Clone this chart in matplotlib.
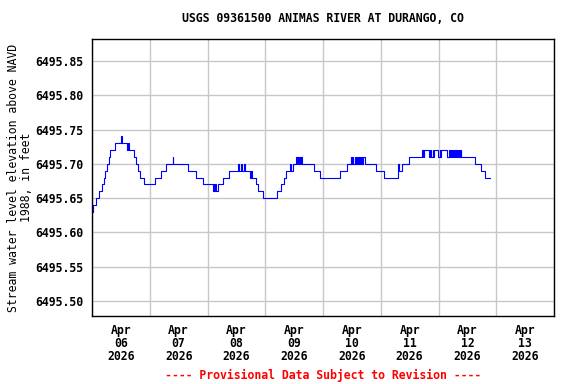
# USGS gage height plot, Animas River at Durango

import numpy as np
import pandas as pd
import matplotlib
matplotlib.use("Agg")
import matplotlib.pyplot as plt

# Step changes of the water level: hours after Apr 06 00:00, level (ft)
hours = [0.0, 0.5, 1.5, 2.9, 4.0, 5.0, 5.6, 6.4, 6.9, 7.6, 9.6, 12.0, 12.3,
         14.4, 15.0, 15.5, 17.6, 18.3, 19.0, 20.0, 21.8, 26.2, 28.8, 30.8,
         33.5, 33.8, 40.1, 43.3, 46.1, 50.3, 50.6, 50.8, 51.2, 51.4, 52.4,
         54.6, 57.1, 60.7, 61.0, 61.9, 62.2, 63.1, 63.4, 65.7, 66.0,
         66.3, 68.2, 69.1, 71.2, 76.7, 78.5, 79.7, 80.8, 82.2, 82.5,
         83.6, 84.8, 85.1, 85.3, 85.6, 85.8, 86.0, 86.5, 86.8, 87.0, 87.2,
         92.4, 94.7, 103.1, 105.8, 107.5, 107.8, 108.0, 108.6, 109.2, 109.4,
         109.8, 110.1, 110.6, 110.8, 111.4, 111.6, 112.0, 112.3, 112.8, 113.3,
         118.2, 121.4, 127.0, 127.3, 127.6, 129.0, 131.8, 137.1, 137.4, 137.6,
         137.9, 138.1, 140.1, 140.5, 140.9, 141.7, 141.9, 142.1, 143.8, 144.6,
         144.8, 145.0, 147.5, 148.4, 148.7, 149.2, 149.5, 150.1, 150.4, 150.9,
         151.2, 151.6, 151.9, 152.5, 152.8, 153.2, 153.5, 159.3, 161.8, 163.5,
         165.4]
levels = [6495.63, 6495.64, 6495.65, 6495.66, 6495.67, 6495.68, 6495.69, 6495.70,
          6495.71, 6495.72, 6495.73, 6495.74, 6495.73, 6495.72, 6495.73, 6495.72,
          6495.71, 6495.70, 6495.69, 6495.68, 6495.67, 6495.68, 6495.69, 6495.70,
          6495.71, 6495.70, 6495.69, 6495.68, 6495.67, 6495.66, 6495.67, 6495.66,
          6495.67, 6495.66, 6495.67, 6495.68, 6495.69, 6495.70, 6495.69,
          6495.70, 6495.69, 6495.70, 6495.69, 6495.68, 6495.69, 6495.68,
          6495.67, 6495.66, 6495.65, 6495.66, 6495.67, 6495.68, 6495.69, 6495.70,
          6495.69, 6495.70, 6495.71, 6495.70, 6495.71, 6495.70, 6495.71, 6495.70,
          6495.71, 6495.70, 6495.71, 6495.70, 6495.69, 6495.68, 6495.69, 6495.70,
          6495.71, 6495.70, 6495.71, 6495.70, 6495.71, 6495.70, 6495.71, 6495.70,
          6495.71, 6495.70, 6495.71, 6495.70, 6495.71, 6495.70, 6495.71, 6495.70,
          6495.69, 6495.68, 6495.69, 6495.70, 6495.69, 6495.70, 6495.71, 6495.72,
          6495.71, 6495.72, 6495.71, 6495.72, 6495.71, 6495.72, 6495.71, 6495.72,
          6495.71, 6495.72, 6495.71, 6495.72, 6495.71, 6495.72, 6495.71, 6495.72,
          6495.71, 6495.72, 6495.71, 6495.72, 6495.71, 6495.72, 6495.71, 6495.72,
          6495.71, 6495.72, 6495.71, 6495.72, 6495.71, 6495.70, 6495.69, 6495.68,
          6495.68]

y_ticks = [6495.50, 6495.55, 6495.60, 6495.65, 6495.70, 6495.75, 6495.80, 6495.85]
day_labels = ["Apr\n06\n2026", "Apr\n07\n2026", "Apr\n08\n2026", "Apr\n09\n2026",
              "Apr\n10\n2026", "Apr\n11\n2026", "Apr\n12\n2026", "Apr\n13\n2026"]

title = "USGS 09361500 ANIMAS RIVER AT DURANGO, CO"
ylabel = "Stream water level elevation above NAVD\n1988, in feet"
footer = "---- Provisional Data Subject to Revision ----"

t0 = pd.Timestamp("2026-04-06 00:00")
times = [t0 + pd.Timedelta(hours=h) for h in hours]
midnights = [t0 + pd.Timedelta(days=d) for d in range(9)]
noons = [t0 + pd.Timedelta(days=d, hours=12) for d in range(8)]

font = {"family": "DejaVu Sans Mono", "weight": "bold", "size": 8.3}
plt.rcParams["font.family"] = "DejaVu Sans Mono"
plt.rcParams["font.weight"] = "bold"
plt.rcParams["font.size"] = 8.3

fig = plt.figure(figsize=(5.76, 3.84), dpi=100)
ax = fig.add_axes([92 / 576, 1 - 316 / 384, 462 / 576, 277 / 384])

ax.plot(times, levels, drawstyle="steps-post", color="#0000ff", linewidth=0.8)

ax.set_xlim(midnights[0], midnights[-1])
ax.set_ylim(6495.478, 6495.882)

# gridlines at midnight, date labels at noon
ax.set_xticks(midnights)
ax.set_xticklabels([])
ax.set_xticks(noons, minor=True)
ax.set_xticklabels(day_labels, minor=True, linespacing=1.0)
ax.tick_params(axis="x", which="both", length=0, pad=5.5)
ax.set_yticks(y_ticks)
ax.set_yticklabels([f"{v:.2f}" for v in y_ticks])
ax.tick_params(axis="y", length=0, pad=6.5)
ax.grid(True, which="major", color="#c8c8c8", linewidth=1.0)
ax.set_axisbelow(True)

for s in ax.spines.values():
    s.set_color("black")
    s.set_linewidth(1.0)

ax.set_ylabel(ylabel, linespacing=1.05, labelpad=1)

fig.text(323 / 576, 1 - 19 / 384, title, ha="center", va="center", **font)
fig.text(323 / 576, 1 - 375 / 384, footer, ha="center", va="center",
         color="red", **font)

plt.savefig("out.png", dpi=100)
